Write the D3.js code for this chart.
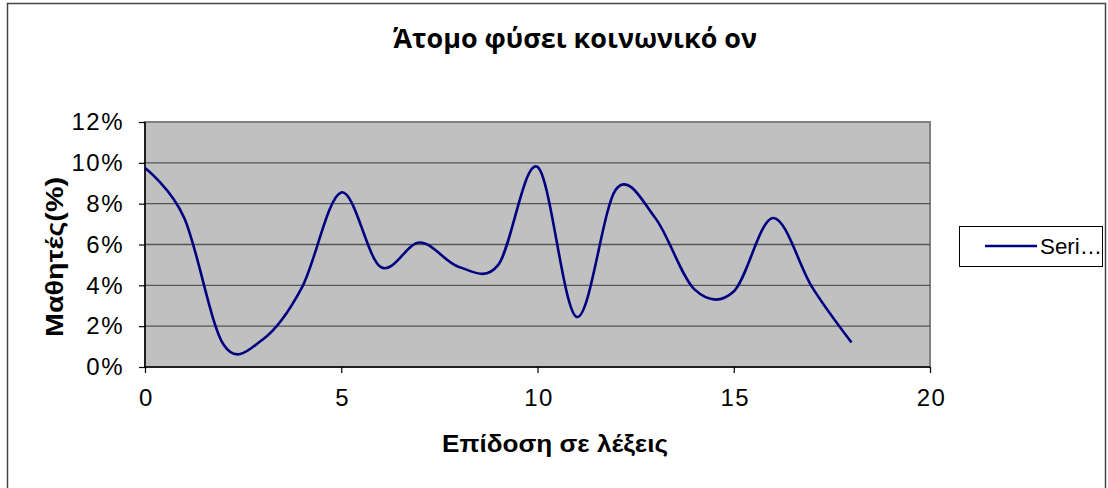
<!DOCTYPE html>
<html>
<head>
<meta charset="utf-8">
<script src="https://cdn.jsdelivr.net/npm/d3@7"></script>
<style>
  body { margin: 0; background: #fff; }
  svg { display: block; }
</style>
</head>
<body>
<div id="chart"></div>
<script>
// data (x = score in words, y = share of students)
const scores = [0, 1, 2, 3, 4, 5, 6, 7, 8, 9, 10, 11, 12, 13, 14, 15, 16, 17, 18];
const students = [9.75, 7.3, 1.1, 1.35, 3.9, 8.55, 4.9, 6.1, 4.9, 5.0, 9.8, 2.45, 8.7, 7.3, 3.8, 3.7, 7.3, 3.9, 1.2];
const xTicks = [0, 5, 10, 15, 20];
const yTicks = [0, 2, 4, 6, 8, 10, 12];

const width = 1108, height = 488;
const plot = { left: 145, right: 930, top: 122, bottom: 367 };
const font = "Liberation Sans, Arial, sans-serif";

const svg = d3.select("#chart").append("svg")
  .attr("width", width)
  .attr("height", height);

/** chart area border */
svg.append("rect")
  .attr("x", 7.5).attr("y", 3.5)
  .attr("width", 1098).attr("height", 490)
  .attr("fill", "#fff")
  .attr("stroke", "#444")
  .attr("stroke-width", 1.5);

const x = d3.scaleLinear().domain([0, 20]).range([plot.left, plot.right]);
const y = d3.scaleLinear().domain([0, 12]).range([plot.bottom, plot.top]);

/** plot area */
svg.append("rect")
  .attr("x", plot.left).attr("y", plot.top)
  .attr("width", plot.right - plot.left).attr("height", plot.bottom - plot.top)
  .attr("fill", "#c0c0c0")
  .attr("stroke", "#808080")
  .attr("stroke-width", 2);

// gridlines
svg.append("g")
  .selectAll("line")
  .data(yTicks.filter(d => d > 0 && d < 12))
  .join("line")
  .attr("x1", plot.left).attr("x2", plot.right)
  .attr("y1", d => y(d)).attr("y2", d => y(d))
  .attr("stroke", "#555")
  .attr("stroke-width", 1.3);

// axes
const yAxis = d3.axisLeft(y)
  .tickValues(yTicks)
  .tickSize(6)
  .tickPadding(15)
  .tickFormat(d => d + "%");
const xAxis = d3.axisBottom(x)
  .tickValues(xTicks)
  .tickSize(6)
  .tickPadding(16);

const gy = svg.append("g")
  .attr("transform", "translate(" + plot.left + ",0)")
  .call(yAxis);
const gx = svg.append("g")
  .attr("transform", "translate(0," + plot.bottom + ")")
  .call(xAxis);

[gx, gy].forEach(g => {
  g.select(".domain").attr("stroke", "#000").attr("stroke-width", 1.5);
  g.selectAll(".tick line").attr("stroke", "#000").attr("stroke-width", 1.2);
  g.selectAll(".tick text")
    .attr("fill", "#000")
    .style("font-family", font)
    .style("font-size", "24px")
    .style("letter-spacing", "1.5px");
});
// plain axis lines, no end caps
gy.select(".domain").attr("d", "M0," + plot.top + "V" + plot.bottom);
gx.select(".domain").attr("d", "M" + plot.left + ",0H" + plot.right);
// centre x labels despite letter-spacing
gx.selectAll(".tick text").attr("dx", "1px");

/** series line: Excel smooth line = cardinal spline with tension 0 */
const line = d3.line()
  .x((d, i) => x(scores[i]))
  .y(d => y(d))
  .curve(d3.curveCardinal.tension(0));

svg.append("path")
  .datum(students)
  .attr("d", line)
  .attr("fill", "none")
  .attr("stroke", "#000080")
  .attr("stroke-width", 2.6);

/** titles */
svg.append("text")
  .attr("x", 393).attr("y", 48)
  .attr("textLength", 364)
  .attr("lengthAdjust", "spacingAndGlyphs")
  .style("font-family", "Open Sans, sans-serif")
  .style("font-weight", "bold")
  .style("font-size", "26px")
  .text("Άτομο φύσει κοινωνικό ον");

svg.append("text")
  .attr("x", 442).attr("y", 452)
  .attr("textLength", 226)
  .attr("lengthAdjust", "spacingAndGlyphs")
  .style("font-family", font)
  .style("font-weight", "bold")
  .style("font-size", "23px")
  .text("Επίδοση σε λέξεις");

svg.append("text")
  .attr("transform", "translate(63,337) rotate(-90)")
  .attr("textLength", 160)
  .attr("lengthAdjust", "spacingAndGlyphs")
  .style("font-family", font)
  .style("font-weight", "bold")
  .style("font-size", "23px")
  .text("Μαθητές(%)");

/** legend */
const legend = svg.append("g").attr("transform", "translate(959,226)");
legend.append("rect")
  .attr("x", 0.5).attr("y", 0.5)
  .attr("width", 143).attr("height", 40)
  .attr("fill", "#fff")
  .attr("stroke", "#000")
  .attr("stroke-width", 1);
legend.append("line")
  .attr("x1", 26).attr("x2", 78)
  .attr("y1", 20).attr("y2", 20)
  .attr("stroke", "#000080")
  .attr("stroke-width", 2.6);
legend.append("text")
  .attr("x", 81).attr("y", 28)
  .attr("textLength", 62)
  .attr("lengthAdjust", "spacingAndGlyphs")
  .style("font-family", font)
  .style("font-size", "22px")
  .text("Seri…");
</script>
</body>
</html>
